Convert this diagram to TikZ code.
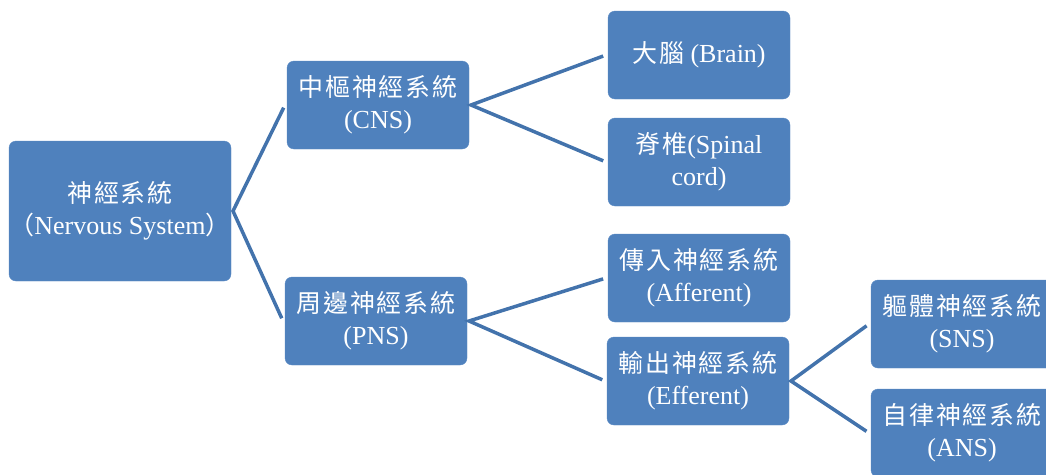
\documentclass[tikz,border=0pt]{standalone}
\usepackage{fontspec}
\setmainfont{Liberation Serif}
\newfontfamily\cjk[Scale=0.96,LetterSpace=7]{Noto Sans CJK TC}
\usepackage{tikz}

\definecolor{boxblue}{HTML}{4F81BD}
\definecolor{boxedge}{HTML}{5A8AC4}
\definecolor{linkblue}{HTML}{4373AC}

\begin{document}
\begin{tikzpicture}[x=1pt,y=-1pt,
		box/.style={shape=rectangle, rounded corners=7pt, draw=boxedge, fill=boxblue, text=white, align=center, minimum width=182pt, minimum height=88pt, inner sep=2pt, outer sep=2pt, font=\fontsize{26}{32}\selectfont},
		link/.style={draw=linkblue, line width=3.5pt, line join=miter, shorten <=3pt, shorten >=3pt}]
				\path[use as bounding box, clip] (0,0) rectangle (1046,474);
				\node[box, minimum width=222pt, minimum height=140pt, inner xsep=0pt] (root) at (120,211) {{\cjk 神經系統}\\{\cjk （}Nervous System{\cjk ）}};
				\node[box] (cns) at (378,105) {{\cjk 中樞神經系統}\\(CNS)};
				\node[box] (pns) at (376,321) {{\cjk 周邊神經系統}\\(PNS)};
				\node[box] (brain) at (699,55) {{\cjk 大腦} (Brain)};
				\node[box] (spinal) at (699,162) {{\cjk 脊椎}(Spinal\\cord)};
				\node[box] (afferent) at (699,278) {{\cjk 傳入神經系統}\\(Afferent)};
				\node[box] (efferent) at (698,381) {{\cjk 輸出神經系統}\\(Efferent)};
				\node[box] (sns) at (962,324) {{\cjk 軀體神經系統}\\(SNS)};
				\node[box] (ans) at (962,433) {{\cjk 自律神經系統}\\(ANS)};
				\draw[link] (cns.west) -- (root.east) -- (pns.west);
				\draw[link] (brain.west) -- (cns.east) -- (spinal.west);
				\draw[link] (afferent.west) -- (pns.east) -- (efferent.west);
				\draw[link] (sns.west) -- (efferent.east) -- (ans.west);
			\end{tikzpicture}
\end{document}
